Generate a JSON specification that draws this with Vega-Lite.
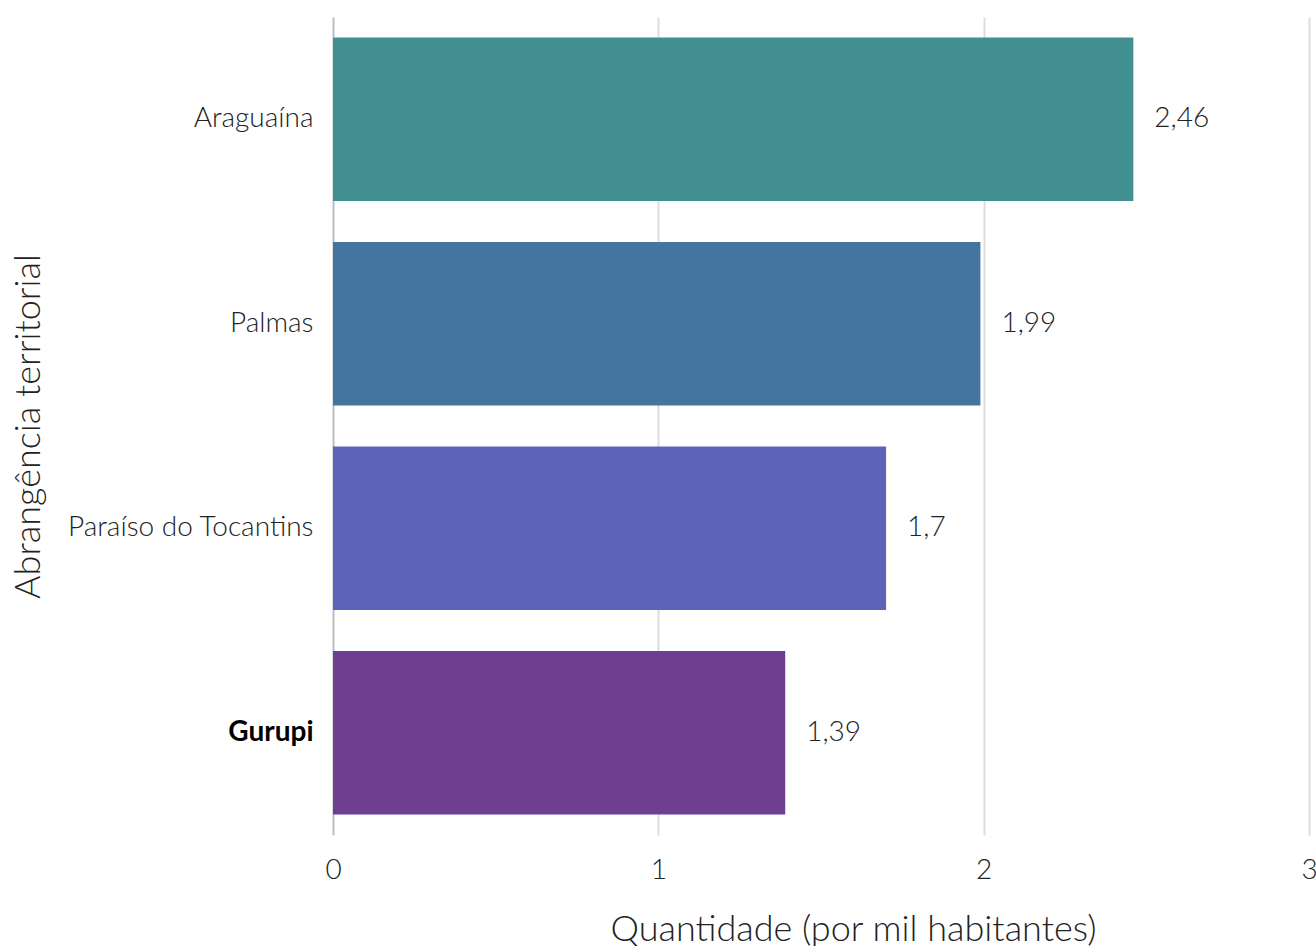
{
  "$schema": "https://vega.github.io/schema/vega-lite/v6.json",
  "width": 976,
  "height": 818,
  "autosize": "none",
  "padding": {"left": 333, "top": 17, "right": 7, "bottom": 111},
  "background": "white",
  "config": {
    "view": {"stroke": null},
    "font": "Lato Light"
  },
  "data": {
    "values": [
      {"regiao": "Araguaína", "valor": 2.46, "rotulo": "2,46"},
      {"regiao": "Palmas", "valor": 1.99, "rotulo": "1,99"},
      {"regiao": "Paraíso do Tocantins", "valor": 1.7, "rotulo": "1,7"},
      {"regiao": "Gurupi", "valor": 1.39, "rotulo": "1,39"}
    ]
  },
  "encoding": {
    "y": {
      "field": "regiao",
      "type": "nominal",
      "sort": {"field": "valor", "order": "descending"},
      "scale": {"paddingInner": 0.2, "paddingOuter": 0.1},
      "axis": {
        "title": "Abrangência territorial",
        "titleFont": "Lato Light",
        "titleFontWeight": "normal",
        "titleFontSize": 36,
        "titleColor": "#222222",
        "titlePadding": 86,
        "labelFont": {"condition": {"test": "datum.label == 'Gurupi'", "value": "Lato"}, "value": "Lato Light"},
        "labelFontSize": 28,
        "labelFontWeight": {"condition": {"test": "datum.label == 'Gurupi'", "value": "bold"}, "value": "normal"},
        "labelColor": {"condition": {"test": "datum.label == 'Gurupi'", "value": "#000000"}, "value": "#222222"},
        "labelLimit": 400,
        "labelPadding": 20,
        "ticks": false,
        "domain": false,
        "grid": false
      }
    },
    "x": {
      "field": "valor",
      "type": "quantitative",
      "scale": {"domain": [0, 3], "nice": false},
      "axis": {
        "title": "Quantidade (por mil habitantes)",
        "titleFont": "Lato Light",
        "titleFontWeight": "normal",
        "titleFontSize": 36,
        "titleColor": "#222222",
        "titlePadding": 28,
        "titleX": 520,
        "labelFont": "Lato Light",
        "labelFontSize": 28,
        "labelFontWeight": "normal",
        "labelColor": "#222222",
        "labelPadding": 21,
        "labelOverlap": false,
        "labelFlush": false,
        "values": [0, 1, 2, 3],
        "format": "d",
        "ticks": false,
        "domain": false,
        "grid": true,
        "gridColor": {"condition": {"test": "datum.value === 0", "value": "#BDBDBD"}, "value": "#DDDDDD"},
        "gridWidth": 2
      }
    }
  },
  "layer": [
    {
      "mark": {"type": "bar"},
      "encoding": {
        "color": {
          "field": "regiao",
          "type": "nominal",
          "scale": {
            "domain": ["Araguaína", "Palmas", "Paraíso do Tocantins", "Gurupi"],
            "range": ["#418F91", "#44759E", "#5B64B6", "#6E3E91"]
          },
          "legend": null
        }
      }
    },
    {
      "mark": {"type": "text", "align": "left", "baseline": "middle", "dx": 21, "font": "Lato Light", "fontSize": 28, "fontWeight": "normal", "color": "#222222"},
      "encoding": {"text": {"field": "rotulo"}}
    }
  ]
}
